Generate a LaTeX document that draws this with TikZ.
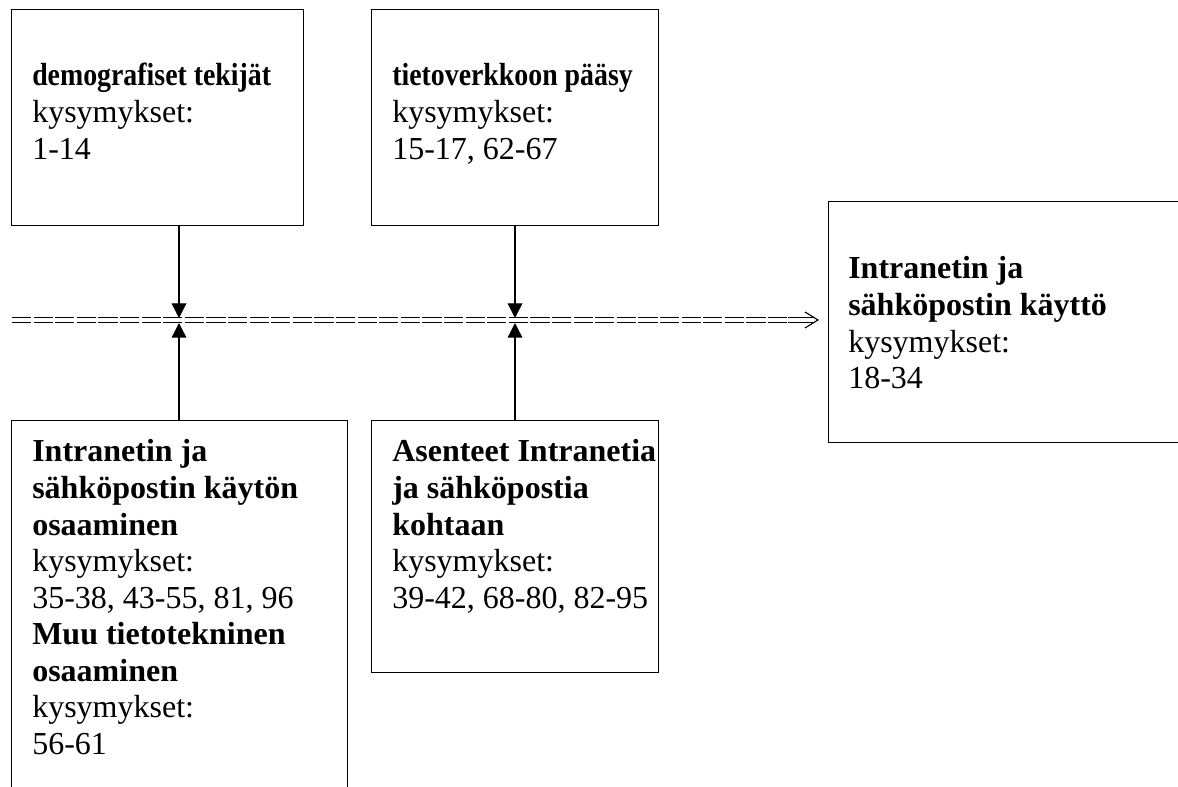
\documentclass[tikz,border=0pt]{standalone}
\usepackage{graphicx}
\usepackage{fontspec}
\setmainfont{Liberation Serif}
\usetikzlibrary{arrows.meta}
\tikzset{
  box/.style={draw, line width=1.1pt, rectangle, inner sep=0pt, anchor=north west},
  label/.style={anchor=base west, inner sep=0pt, font=\fontsize{24}{27.4}\selectfont},
  feeder/.style={line width=1pt, -{Triangle[width=11pt,length=11pt]}},
  dashline/.style={line width=0.85pt, dash pattern=on 14.4pt off 1.8pt},
  implies/.style={double, double distance=3.2pt, line width=0.85pt},
  chevron/.style={line width=0.85pt, line join=miter}
}
\newcommand{\boxtext}[1]{\parbox[t]{300pt}{\raggedright #1}}
\newcommand{\narrowhead}[1]{\scalebox{0.87}[1]{\textbf{#1}}}
\begin{document}
\begin{tikzpicture}[x=0.75pt,y=-0.75pt]
\useasboundingbox (0,0) rectangle (1178,787);
\clip (0,0) rectangle (1178,787);
% boxes
\node[box, minimum width=219pt, minimum height=162pt] (tl) at (11,9) {};
\node[box, minimum width=215.25pt, minimum height=162pt] (tm) at (371,9) {};
\node[box, minimum width=279pt, minimum height=180.75pt] (rb) at (828,201) {};
\node[box, minimum width=252pt, minimum height=300pt] (bl) at (11,420) {};
\node[box, minimum width=215.25pt, minimum height=189pt] (bm) at (371,420) {};
% texts
\node[label] (tlt) at (32,86) {\boxtext{\narrowhead{demografiset tekijät}\\kysymykset:\\1-14}};
\node[label] (tmt) at (392,86) {\boxtext{\narrowhead{tietoverkkoon pääsy}\\kysymykset:\\15-17, 62-67}};
\node[label] (rbt) at (848,279) {\boxtext{\textbf{Intranetin ja}\\\textbf{sähköpostin käyttö}\\kysymykset:\\18-34}};
\node[label] (blt) at (32,462) {\boxtext{\textbf{Intranetin ja}\\\textbf{sähköpostin käytön}\\\textbf{osaaminen}\\kysymykset:\\35-38, 43-55, 81, 96\\\textbf{Muu tietotekninen}\\\textbf{osaaminen}\\kysymykset:\\56-61}};
\node[label] (bmt) at (392,462) {\boxtext{\textbf{Asenteet Intranetia}\\\textbf{ja sähköpostia}\\\textbf{kohtaan}\\kysymykset:\\39-42, 68-80, 82-95}};
% main double arrow
\coordinate (ds1) at (12,317.3);
\coordinate (de1) at (788,317.3);
\coordinate (ds2) at (12,322.8);
\coordinate (de2) at (788,322.8);
\coordinate (dmid) at (788,320);
\coordinate (dend) at (813,320);
\coordinate (dtip) at (818,320);
\draw[dashline] (ds1) -- (de1);
\draw[dashline] (ds2) -- (de2);
\draw[implies] (dmid) -- (dend);
\draw[chevron] (dtip) ++(-13,-8) -- (dtip) -- ++(-13,8);
% feeders
\coordinate (j1a) at (179,318);
\coordinate (j1b) at (179,323);
\coordinate (j2a) at (515,318);
\coordinate (j2b) at (515,323);
\draw[feeder] (tl.south -| j1a) -- (j1a);
\draw[feeder] (bl.north -| j1b) -- (j1b);
\draw[feeder] (tm.south -| j2a) -- (j2a);
\draw[feeder] (bm.north -| j2b) -- (j2b);
\end{tikzpicture}
\end{document}
